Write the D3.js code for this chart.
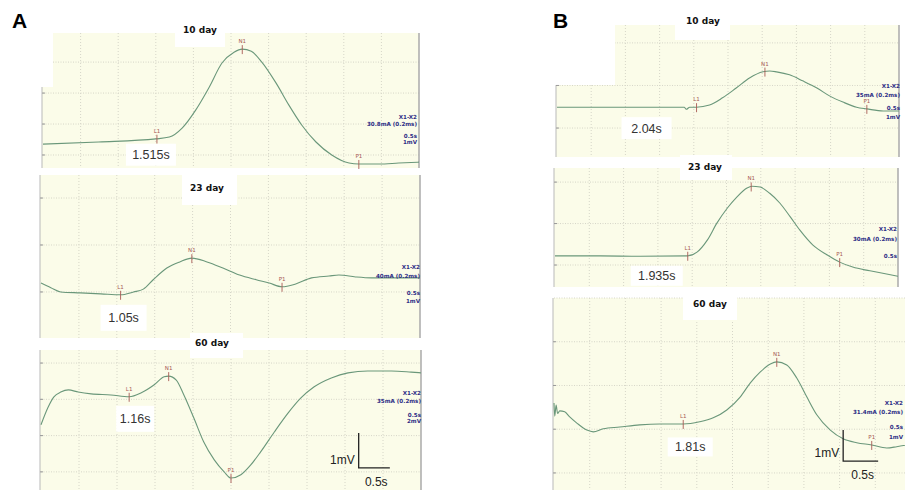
<!DOCTYPE html>
<html>
<head>
<meta charset="UTF-8">
<script src="https://d3js.org/d3.v7.min.js"></script>
<style>
  body { margin: 0; background: #fff; }
  svg { display: block; }
</style>
</head>
<body>
<script>
// ---- data: [time (s), amplitude (mV)] ----
const traceA10 = [[0,0.35],[0.74,0.42],[1.5,0.52],[1.68,0.58],[1.85,0.87],[2.03,1.45],[2.21,2.19],[2.38,2.97],[2.54,3.32],[2.65,3.42],[2.77,3.35],[2.91,3.0],[3.1,2.32],[3.27,1.61],[3.44,0.97],[3.63,0.42],[3.84,0],[4.07,-0.26],[4.2,-0.29],[4.47,-0.29],[4.73,-0.26],[5,-0.23]];
const traceA23 = [[0,0.19],[0.13,0.09],[0.26,0],[0.52,-0.02],[0.79,-0.04],[1.05,-0.06],[1.22,0],[1.35,0.06],[1.48,0.26],[1.66,0.51],[1.83,0.64],[1.99,0.72],[2.19,0.64],[2.4,0.51],[2.62,0.36],[2.84,0.26],[3.01,0.19],[3.18,0.11],[3.36,0.17],[3.57,0.3],[3.8,0.34],[3.93,0.36],[4.15,0.32],[4.36,0.3],[4.58,0.3],[5,0.3]];
const traceA60 = [[0,1.3],[0.09,1.77],[0.17,2.07],[0.26,2.2],[0.36,2.26],[0.49,2.2],[0.66,2.15],[0.92,2.12],[1.16,2.07],[1.32,2.18],[1.49,2.4],[1.62,2.62],[1.68,2.64],[1.78,2.53],[1.88,2.12],[2.01,1.49],[2.14,0.83],[2.28,0.33],[2.41,0],[2.5,-0.17],[2.63,-0.08],[2.76,0.19],[2.89,0.55],[3.07,1.1],[3.25,1.62],[3.42,2.04],[3.59,2.34],[3.82,2.59],[4.04,2.73],[4.3,2.78],[4.61,2.78],[4.87,2.75],[5,2.73]];
const traceB10 = [[0,0.49],[0.62,0.49],[1.2,0.49],[1.86,0.49],[1.89,0.44],[1.94,0.49],[2.04,0.49],[2.23,0.54],[2.42,0.71],[2.62,0.94],[2.82,1.18],[3.01,1.32],[3.11,1.34],[3.21,1.32],[3.4,1.25],[3.59,1.11],[3.8,0.94],[3.99,0.75],[4.18,0.61],[4.38,0.49],[4.53,0.45],[4.77,0.4],[5,0.4]];
const traceB23 = [[0,0.22],[0.66,0.22],[1.24,0.21],[1.93,0.22],[2.07,0.31],[2.22,0.6],[2.36,1.01],[2.51,1.37],[2.65,1.64],[2.8,1.86],[2.87,1.9],[2.99,1.88],[3.13,1.73],[3.28,1.49],[3.43,1.16],[3.57,0.84],[3.76,0.48],[3.97,0.24],[4.15,0.07],[4.34,-0.05],[4.59,-0.14],[5,-0.27]];
const traceB60 = [[0,1.6],[0.01,1.3],[0.03,1.55],[0.05,1.36],[0.08,1.42],[0.15,1.4],[0.22,1.28],[0.32,1.14],[0.46,0.98],[0.55,0.94],[0.69,1.01],[0.92,1.05],[1.2,1.1],[1.48,1.12],[1.81,1.12],[2.04,1.17],[2.23,1.26],[2.42,1.44],[2.61,1.74],[2.75,2.06],[2.89,2.31],[3.03,2.49],[3.12,2.54],[3.26,2.47],[3.4,2.17],[3.54,1.74],[3.68,1.33],[3.87,0.98],[4.05,0.78],[4.24,0.69],[4.45,0.64],[4.66,0.57],[4.8,0.6],[5,0.66]];

const markerNames = ["L1", "N1", "P1"];
const markersA10 = [1.515, 2.65, 4.2];
const markersA23 = [1.05, 1.99, 3.18];
const markersA60 = [1.16, 1.68, 2.5];
const markersB10 = [2.04, 3.04, 4.53];
const markersB23 = [1.935, 2.86, 4.15];
const markersB60 = [1.81, 3.12, 4.45];

const dayLabels = ["10 day", "23 day", "60 day"];
const latencyLabels = ["1.515s", "1.05s", "1.16s", "2.04s", "1.935s", "1.81s"];
const stimLabels = ["30.8mA (0.2ms)", "40mA (0.2ms)", "35mA (0.2ms)", "35mA (0.2ms)", "30mA (0.2ms)", "31.4mA (0.2ms)"];
const gainLabels = ["1mV", "1mV", "2mV", "1mV", "", "1mV"];

// ---- panel layout (pixels) ----
const panels = [
  {trace: traceA10, marks: markersA10, xr: [43, 419], top: 33, bottom: 168, vd: [-0.42, 3.94], cut: [40, 53, 33, 87],
   title: [200, 33, 175, 18, 50, 29], lat: [-6, 16, 50, 22], ann: [417, 119, 126, 138, 144]},
  {trace: traceA23, marks: markersA23, xr: [41, 420], top: 175, bottom: 338, vd: [-0.98, 2.49],
   title: [207, 191, 182, 175, 55, 30], lat: [3, 23, 46, 26], ann: [420, 269, 278, 295, 303]},
  {trace: traceA60, marks: markersA60, xr: [41, 421], top: 350, bottom: 490, vd: [-0.5, 3.36],
   title: [212, 346, 190, 333, 53, 25], lat: [6, 22, 38, 26], ann: [421, 395, 403, 417, 423],
   bar: [4.18, 0.11, 0.41, 0.96]},
  {trace: traceB10, marks: markersB10, xr: [557, 899], top: 25, bottom: 157, vd: [-0.68, 2.42], cut: [554, 615, 25, 85],
   title: [703, 24, 675, 8, 55, 32], lat: [-50, 21, 50, 22], ann: [900, 88, 97, 110, 119]},
  {trace: traceB23, marks: markersB23, xr: [555, 898], top: 168, bottom: 287, vd: [-0.53, 2.34],
   title: [705, 170, 680, 155, 52, 25], lat: [-31, 20, 52, 20], ann: [897, 231, 241, 258, 0]},
  {trace: traceB60, marks: markersB60, xr: [554, 911], top: 298, bottom: 490, vd: [-0.39, 4.0],
   title: [710, 307, 683, 293, 54, 27], lat: [7, 23, 45, 19], ann: [903, 405, 414, 429, 439],
   bar: [4.05, 0.27, 0.49, 0.71]}
];

const W = 905, H = 492;
const svg = d3.select('body').append('svg').attr('width', W).attr('height', H);

const bg = '#fbfce9';
const gridColor = '#d6d6c8';
const traceColor = '#6a977a';
const markColor = '#a85a55';
const annColor = '#2e2e86';

function valueAt(trace, t) {
  for (let i = 1; i < trace.length; i++) {
    if (trace[i][0] >= t) {
      const a = trace[i - 1], b = trace[i];
      const f = (t - a[0]) / (b[0] - a[0]);
      return a[1] + f * (b[1] - a[1]);
    }
  }
  return trace[trace.length - 1][1];
}

panels.forEach((p, i) => {
  const left = p.xr[0], right = Math.min(p.xr[1], W);
  const x = d3.scaleLinear().domain([0, 5]).range(p.xr);
  const y = d3.scaleLinear().domain(p.vd).range([p.bottom, p.top]);
  const g = svg.append('g');

  g.append('clipPath').attr('id', 'clip' + i)
    .append('rect').attr('x', left - 2).attr('y', p.top).attr('width', right - left + 2).attr('height', p.bottom - p.top);

  // background
  g.append('rect').attr('x', left - 1).attr('y', p.top).attr('width', right - left + 1).attr('height', p.bottom - p.top)
    .attr('fill', bg);

  // grid
  g.selectAll('.vg').data(d3.range(0.5, 5, 0.5)).join('line')
    .attr('x1', d => x(d)).attr('x2', d => x(d)).attr('y1', p.top).attr('y2', p.bottom)
    .attr('stroke', gridColor).attr('stroke-width', 1).attr('stroke-dasharray', '1,2');
  const hv = d3.range(0, Math.floor(p.vd[1]) + 1);
  g.selectAll('.hg').data(hv).join('line')
    .attr('x1', left).attr('x2', right).attr('y1', d => y(d)).attr('y2', d => y(d))
    .attr('stroke', gridColor).attr('stroke-width', 1).attr('stroke-dasharray', '1,1.5');

  // white cut-out corner
  if (p.cut) {
    g.append('rect').attr('x', p.cut[0]).attr('y', p.cut[2]).attr('width', p.cut[1] - p.cut[0]).attr('height', p.cut[3] - p.cut[2])
      .attr('fill', '#fff');
  }

  // left axis and ticks
  const axTop = p.cut ? p.cut[3] : p.top;
  g.append('line').attr('x1', left - 1).attr('x2', left - 1).attr('y1', axTop).attr('y2', p.bottom)
    .attr('stroke', '#b9b9b9').attr('stroke-width', 1);
  g.selectAll('.tk').data(hv.filter(d => y(d) > axTop)).join('line')
    .attr('x1', left - 1).attr('x2', left + 2).attr('y1', d => y(d)).attr('y2', d => y(d))
    .attr('stroke', '#999').attr('stroke-width', 1);

  // right border
  if (p.xr[1] <= W) {
    g.append('line').attr('x1', right).attr('x2', right).attr('y1', p.top).attr('y2', p.bottom)
      .attr('stroke', '#aaa').attr('stroke-width', 1.5);
  }

  // trace
  const line = d3.line().x(d => x(d[0])).y(d => y(d[1])).curve(d3.curveMonotoneX);
  g.append('path').datum(p.trace).attr('d', line)
    .attr('clip-path', 'url(#clip' + i + ')')
    .attr('fill', 'none').attr('stroke', traceColor).attr('stroke-width', 1.1);

  // markers L1, N1, P1
  p.marks.forEach((t, k) => {
    const mx = x(t), my = y(valueAt(p.trace, t));
    g.append('line').attr('x1', mx).attr('x2', mx).attr('y1', my - 4).attr('y2', my + 5)
      .attr('stroke', markColor).attr('stroke-width', 0.9);
    g.append('text').attr('x', mx).attr('y', my - 6).attr('text-anchor', 'middle')
      .attr('font-family', 'DejaVu Sans, sans-serif').attr('font-size', 5.5)
      .attr('fill', markColor).text(markerNames[k]);
  });

  // title box
  const tt = p.title;
  g.append('rect').attr('x', tt[2]).attr('y', tt[3]).attr('width', tt[4]).attr('height', tt[5]).attr('fill', '#fff');
  g.append('text').attr('x', tt[0]).attr('y', tt[1]).attr('text-anchor', 'middle')
    .attr('font-family', 'DejaVu Sans, sans-serif').attr('font-weight', 'bold').attr('font-size', 9)
    .attr('fill', '#111').text(dayLabels[i % 3]);

  // latency label
  const lx = x(p.marks[0]) + p.lat[0], ly = y(valueAt(p.trace, p.marks[0])) + p.lat[1];
  g.append('rect').attr('x', lx - p.lat[2] / 2).attr('y', ly - p.lat[3] / 2).attr('width', p.lat[2]).attr('height', p.lat[3])
    .attr('fill', '#fff');
  g.append('text').attr('x', lx).attr('y', ly + 4.5).attr('text-anchor', 'middle')
    .attr('font-family', 'Liberation Sans, Arial, sans-serif').attr('font-size', 12.5)
    .attr('fill', '#333').text(latencyLabels[i]);

  // stimulus annotations
  const annText = ["X1-X2", stimLabels[i], "0.5s", gainLabels[i]];
  annText.forEach((s, k) => {
    if (!s || !p.ann[k + 1]) return;
    g.append('text').attr('x', p.ann[0]).attr('y', p.ann[k + 1]).attr('text-anchor', 'end')
      .attr('font-family', 'DejaVu Sans, sans-serif').attr('font-weight', 'bold').attr('font-size', 5.6)
      .attr('fill', annColor).text(s);
  });

  // scale bar
  if (p.bar) {
    const b = p.bar;
    const bx = x(b[0]), by = y(b[1]);
    g.append('path')
      .attr('d', d3.line()([[bx, y(b[1] + b[3])], [bx, by], [x(b[0] + b[2]), by]]))
      .attr('fill', 'none').attr('stroke', '#222').attr('stroke-width', 1.3);
    g.append('text').attr('x', bx - 4).attr('y', by - 4).attr('text-anchor', 'end')
      .attr('font-family', 'Liberation Sans, Arial, sans-serif').attr('font-size', 12).attr('fill', '#222').text('1mV');
    g.append('text').attr('x', (bx + x(b[0] + b[2])) / 2 + 2).attr('y', by + 18).attr('text-anchor', 'middle')
      .attr('font-family', 'Liberation Sans, Arial, sans-serif').attr('font-size', 12).attr('fill', '#222').text('0.5s');
  }
});

// panel letters
svg.append('text').attr('x', 12).attr('y', 28).attr('font-family', 'Liberation Sans, Arial, sans-serif')
  .attr('font-weight', 'bold').attr('font-size', 21).text('A');
svg.append('text').attr('x', 553).attr('y', 28).attr('font-family', 'Liberation Sans, Arial, sans-serif')
  .attr('font-weight', 'bold').attr('font-size', 21).text('B');
</script>
</body>
</html>
